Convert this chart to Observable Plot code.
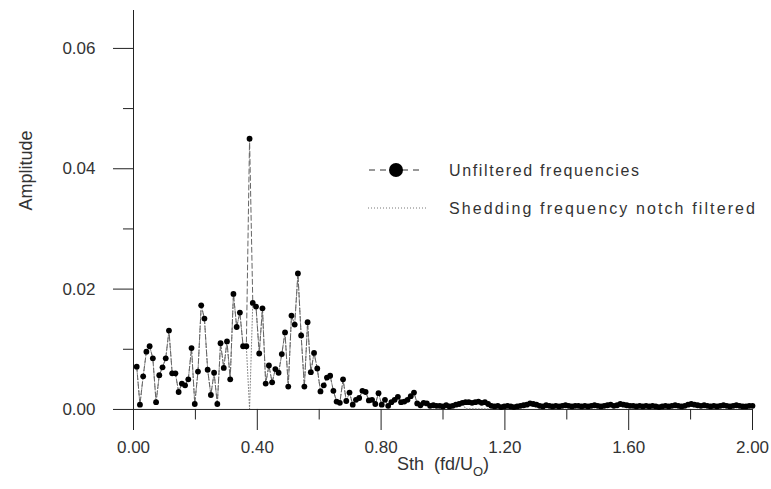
<!DOCTYPE html>
<html><head><meta charset="utf-8">
<script src="https://cdn.jsdelivr.net/npm/d3@7"></script>
<script src="https://cdn.jsdelivr.net/npm/@observablehq/plot@0.6"></script>
<style>
body{margin:0;background:#fff;}
#chart svg{display:block;}
</style></head><body><div id="chart"></div>
<script>
// Amplitude of each frequency bin (unfiltered), bins 1..192 over Sth 0..2
const unfiltered = [
  0.0071, 0.0008, 0.0055, 0.0096, 0.0105, 0.0085, 0.0012, 0.0057, 0.0070, 0.0085,
  0.0131, 0.0060, 0.0060, 0.0029, 0.0043, 0.0040, 0.0050, 0.0102, 0.0009, 0.0063,
  0.0173, 0.0151, 0.0066, 0.0024, 0.0061, 0.0009, 0.0110, 0.0069, 0.0113, 0.0050,
  0.0192, 0.0137, 0.0161, 0.0105, 0.0105, 0.0450,
  0.0177, 0.0171, 0.0093, 0.0168, 0.0043, 0.0073, 0.0045, 0.0067, 0.0061, 0.0092,
  0.0128, 0.0038, 0.0156, 0.0141, 0.0226, 0.0123, 0.0038, 0.0145, 0.0062, 0.0094,
  0.0068, 0.0030, 0.0040, 0.0053, 0.0056, 0.0031, 0.0013, 0.0011, 0.0050, 0.0014,
  0.0028, 0.0008, 0.0016, 0.0019, 0.0031, 0.0029, 0.0015,
  0.0016, 0.0009, 0.0027, 0.0008, 0.0016, 0.0006, 0.0012, 0.0016, 0.0021, 0.0012,
  0.0013, 0.0016, 0.0022, 0.0028, 0.0010, 0.0007, 0.0011, 0.0010, 0.0006, 0.0007,
  0.0006,
  0.0006, 0.0005, 0.0007, 0.0005, 0.0006, 0.0008, 0.0009,
  0.0011, 0.0012, 0.0012, 0.0011, 0.0012, 0.0013, 0.0011, 0.0012, 0.0009,
  0.0006, 0.0005, 0.0006, 0.0004, 0.0005, 0.0006, 0.0005, 0.0004, 0.0005, 0.0006,
  0.0007, 0.0008, 0.0010, 0.0009, 0.0008, 0.0006, 0.0005, 0.0007, 0.0006, 0.0005,
  0.0006, 0.0005, 0.0006, 0.0007, 0.0006, 0.0005, 0.0006, 0.0006, 0.0005, 0.0006,
  0.0005, 0.0006, 0.0007, 0.0006, 0.0005, 0.0006, 0.0007, 0.0008, 0.0006, 0.0007,
  0.0009, 0.0008, 0.0007, 0.0006, 0.0006, 0.0005, 0.0006, 0.0005, 0.0006, 0.0005,
  0.0006, 0.0005, 0.0004, 0.0005, 0.0006, 0.0005, 0.0006, 0.0007, 0.0006, 0.0005,
  0.0006, 0.0008, 0.0009, 0.0008, 0.0007, 0.0006, 0.0007, 0.0006, 0.0005, 0.0006,
  0.0005, 0.0006, 0.0007, 0.0006, 0.0005, 0.0006, 0.0007, 0.0006, 0.0005, 0.0005,
  0.0006, 0.0006
];
// Bins (1-based) removed by the notch filter, and their filtered amplitude
const notchBins = [36, 103, 104, 105, 106, 107, 108, 109, 110];
const notchValues = [0.0001, 0.0001, 0.0001, 0.0001, 0.0001, 0.0001, 0.0001, 0.0001, 0.0001];

const binCount = 192;
const sthMax = 2.0;

const xMajor = [0, 0.4, 0.8, 1.2, 1.6, 2.0];
const xMinor = [0.2, 0.6, 1.0, 1.4, 1.8];
const yMajor = [0, 0.02, 0.04, 0.06];
const yMinor = [0.01, 0.03, 0.05];
const legendLabels = ["Unfiltered frequencies", "Shedding frequency notch filtered"];
const yLabel = "Amplitude";
const xLabel = "Sth (fd/U_O)";

const df = sthMax / binCount;
const data = unfiltered.map((amp, i) => {
  const k = notchBins.indexOf(i + 1);
  return {sth: (i + 1) * df, amp, filt: k >= 0 ? notchValues[k] : amp};
});

const yLo = -0.0035, yHi = 0.0663;
const font = "Liberation Sans, Arial, sans-serif";
const ink = "#222";

const chart = Plot.plot({
  width: 771, height: 489,
  marginLeft: 133, marginRight: 19, marginTop: 10, marginBottom: 59,
  x: {domain: [0, sthMax]},
  y: {domain: [yLo, yHi]},
  style: {fontFamily: font, fontSize: "17px", color: "#333", background: "#fff"},
  marks: [
    Plot.ruleX([0], {y1: yLo, y2: yHi, stroke: ink}),
    Plot.ruleY([0], {x1: 0, x2: sthMax, stroke: ink}),
    Plot.ruleX(xMajor, {x: d => d, y1: 0, y2: yLo, stroke: ink}),
    Plot.ruleX(xMinor, {x: d => d, y1: 0, y2: yLo / 2, stroke: ink}),
    Plot.axisX(xMajor, {tickSize: 0, tickPadding: 10, tickFormat: d3.format(".2f"), label: null, fill: "#333"}),
    Plot.axisY(yMajor, {tickSize: 20, tickPadding: 18, tickFormat: d3.format(".2f"), label: null, stroke: ink, fill: "#333"}),
    Plot.axisY(yMinor, {tickSize: 10, tickFormat: () => "", label: null, stroke: ink}),
    Plot.line(data, {x: "sth", y: "filt", stroke: "#777", strokeWidth: 0.9, strokeDasharray: "1,2"}),
    Plot.line(data, {x: "sth", y: "amp", stroke: "#666", strokeWidth: 1, strokeDasharray: "5,3"}),
    Plot.dot(data, {x: "sth", y: "amp", r: 2.9, fill: "#000"}),
    Plot.text([yLabel], {frameAnchor: "left", dx: -107, dy: -10, rotate: -90, fontSize: 18, fill: "#333"}),
    Plot.text([xLabel], {frameAnchor: "bottom", dy: 39, fontSize: 18, fill: "#333"})
  ]
});
document.getElementById("chart").appendChild(chart);

const svg = d3.select(chart);
// subscript in x label
svg.selectAll("text").filter(function() { return this.textContent === xLabel; }).each(function() {
  const t = d3.select(this);
  const [main, sub] = xLabel.split("_");
  t.text(null);
  t.append("tspan").text(main.replace(" ", "\u00a0\u00a0"));
  t.append("tspan").attr("dy", 6).attr("font-size", 13).text(sub.replace(")", ""));
  t.append("tspan").attr("dy", -6).text(")");
});

// legend inside plot area
const lg = svg.append("g").attr("font-family", font).attr("font-size", 16)
  .attr("fill", "#333").attr("text-anchor", "start");
lg.append("line").attr("x1", 369).attr("x2", 420).attr("y1", 170).attr("y2", 170)
  .attr("stroke", "#333").attr("stroke-dasharray", "6,5");
lg.append("circle").attr("cx", 396).attr("cy", 170).attr("r", 7).attr("fill", "#000");
lg.append("text").attr("x", 449).attr("y", 170).attr("dy", "0.35em")
  .attr("textLength", 190).attr("lengthAdjust", "spacing").text(legendLabels[0]);
lg.append("line").attr("x1", 368).attr("x2", 428).attr("y1", 208).attr("y2", 208)
  .attr("stroke", "#666").attr("stroke-width", 0.9).attr("stroke-dasharray", "1,2");
lg.append("text").attr("x", 449).attr("y", 208).attr("dy", "0.35em")
  .attr("textLength", 306).attr("lengthAdjust", "spacing").text(legendLabels[1]);
</script></body></html>
